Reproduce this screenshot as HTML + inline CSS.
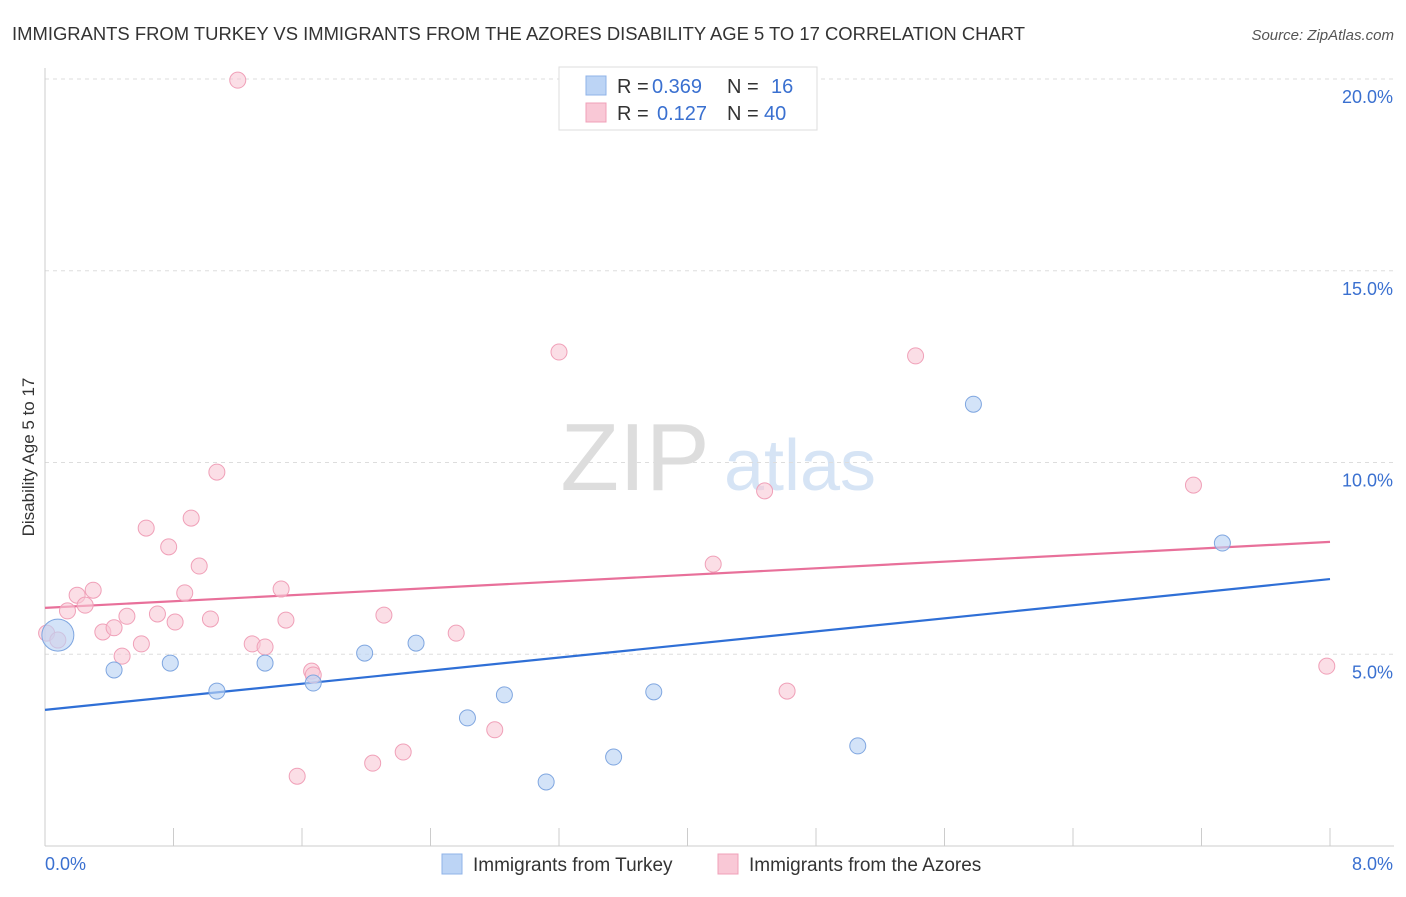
<!DOCTYPE html>
<html><head><meta charset="utf-8"><style>
body{margin:0;background:#fff;font-family:"Liberation Sans",sans-serif;}
text{font-family:"Liberation Sans",sans-serif;}
</style></head><body>
<svg id="chart" width="1406" height="892" xmlns="http://www.w3.org/2000/svg">
<text x="12" y="40" font-size="18" fill="#333" textLength="1013" lengthAdjust="spacingAndGlyphs">IMMIGRANTS FROM TURKEY VS IMMIGRANTS FROM THE AZORES DISABILITY AGE 5 TO 17 CORRELATION CHART</text>
<text x="1394" y="40" font-size="15" fill="#555" text-anchor="end" font-style="italic">Source: ZipAtlas.com</text>
<text transform="translate(34,457) rotate(-90)" font-size="17" fill="#333" text-anchor="middle">Disability Age 5 to 17</text>
<g>
<text x="635" y="490" font-size="96" fill="#ddd" font-family="Liberation Serif" text-anchor="middle">ZIP</text>
<text x="800" y="490" font-size="72" fill="#d6e4f5" text-anchor="middle">atlas</text>
</g>
<g id="grid"></g><g id="axes"></g><g id="lines"></g><g id="pts"></g>
<g>
<rect x="559" y="67" width="258" height="63" fill="#fff" stroke="#ddd"/>
<rect x="586" y="76" width="20" height="19" fill="#bcd4f5" stroke="#8fb3e8"/>
<rect x="586" y="103" width="20" height="19" fill="#f9c8d6" stroke="#f0a0b8"/>
<text x="617" y="93" font-size="20" fill="#333">R =</text>
<text x="652" y="93" font-size="20" fill="#3a70d0">0.369</text>
<text x="727" y="93" font-size="20" fill="#333">N =</text>
<text x="771" y="93" font-size="20" fill="#3a70d0">16</text>
<text x="617" y="120" font-size="20" fill="#333">R =</text>
<text x="657" y="120" font-size="20" fill="#3a70d0">0.127</text>
<text x="727" y="120" font-size="20" fill="#333">N =</text>
<text x="764" y="120" font-size="20" fill="#3a70d0">40</text>
</g>
<g>
<rect x="442" y="854" width="20" height="20" fill="#bcd4f5" stroke="#8fb3e8"/>
<text x="473" y="871" font-size="19" fill="#333">Immigrants from Turkey</text>
<rect x="718" y="854" width="20" height="20" fill="#f9c8d6" stroke="#f0a0b8"/>
<text x="749" y="871" font-size="19" fill="#333">Immigrants from the Azores</text>
</g>
</svg>
<script>
const yTicks=[5,10,15,20];
const yTickLabels=["5.0%","10.0%","15.0%","20.0%"];
const xTickLabels=["0.0%","8.0%"];
const blueX=[0.08,0.43,0.78,1.07,1.37,1.67,1.99,2.31,2.63,2.86,3.12,3.54,3.79,5.06,5.78,7.33];
const blueY=[5.50,4.59,4.77,4.04,4.77,4.25,5.03,5.29,3.34,3.94,1.67,2.32,4.02,2.61,11.52,7.90];
const pinkX=[1.20,0.01,0.08,0.14,0.20,0.25,0.30,0.36,0.43,0.48,0.51,0.60,0.63,0.70,0.77,0.81,0.87,0.91,0.96,1.03,1.07,1.29,1.37,1.47,1.50,1.57,1.66,1.67,2.04,2.11,2.23,2.56,2.80,3.20,4.16,4.48,4.62,5.42,7.15,7.98];
const pinkY=[19.97,5.55,5.37,6.13,6.54,6.28,6.67,5.58,5.69,4.95,5.99,5.27,8.29,6.05,7.80,5.84,6.60,8.55,7.30,5.92,9.75,5.27,5.19,6.70,5.89,1.82,4.56,4.46,2.16,6.02,2.45,5.55,3.03,12.88,7.35,9.26,4.04,12.78,9.41,4.69];
const blueTrend=[3.55,6.96];
const pinkTrend=[6.21,7.93];
const X=v=>45+v*160.625, Y=v=>846-v*38.35;
const NS="http://www.w3.org/2000/svg";
function mk(p,t,a){const e=document.createElementNS(NS,t);for(const k in a)e.setAttribute(k,a[k]);document.getElementById(p).appendChild(e);return e;}
yTicks.forEach((t,i)=>{
 const g=mk('grid','line',{x1:45,x2:1394,y1:Y(t),y2:Y(t),stroke:'#ddd','stroke-dasharray':'4,4'});
 
 
 const l=mk('axes','text',{x:1393,y:Y(t)+24,'font-size':18,fill:'#3a70d0','text-anchor':'end'});
 l.textContent=yTickLabels[i];
 
 
});
const ax=mk('axes','line',{x1:45,x2:1394,y1:846,y2:846,stroke:'#ccc'});


const ay=mk('axes','line',{x1:45,x2:45,y1:68,y2:846,stroke:'#ccc'});


for(let i=1;i<=10;i++){const t=mk('axes','line',{x1:X(i*0.8),x2:X(i*0.8),y1:828,y2:846,stroke:'#ccc'});
 
 }
[[0,'start',45],[8,'end',1393]].forEach((d,i)=>{const t=mk('axes','text',{x:d[2],y:870,'font-size':18,fill:'#3a70d0','text-anchor':d[1]});t.textContent=xTickLabels[i];
 
 });
const bl=mk('lines','line',{x1:X(0),x2:X(8),y1:Y(blueTrend[0]),y2:Y(blueTrend[1]),stroke:'#2f6fd6','stroke-width':2.2});


const pl=mk('lines','line',{x1:X(0),x2:X(8),y1:Y(pinkTrend[0]),y2:Y(pinkTrend[1]),stroke:'#e8709a','stroke-width':2.2});


pinkX.forEach((x,i)=>{const c=mk('pts','circle',{cx:X(x),cy:Y(pinkY[i]),r:8,fill:'#f9c8d6','fill-opacity':0.6,stroke:'#f0a0b8'});
 
 });
blueX.forEach((x,i)=>{const c=mk('pts','circle',{cx:X(x),cy:Y(blueY[i]),r:i==0?16:8,fill:'#bcd4f5','fill-opacity':0.65,stroke:'#7fa6e0'});
 
 });
</script>
</body></html>
